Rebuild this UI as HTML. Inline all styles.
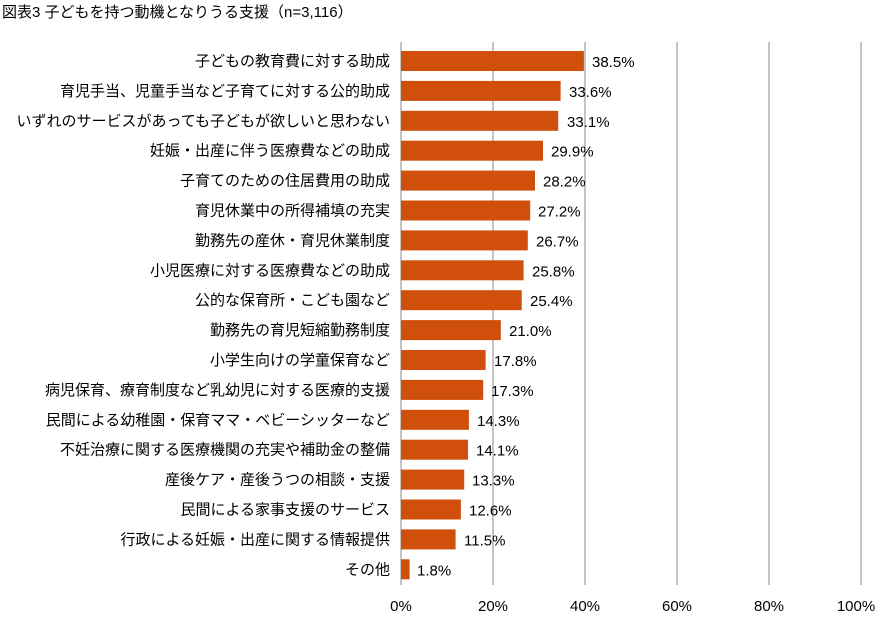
<!DOCTYPE html>
<html><head><meta charset="utf-8"><style>
body{margin:0;background:#fff;}
svg text{font-family:"Liberation Sans","Noto Sans CJK JP",sans-serif;}
</style></head><body>
<svg width="883" height="615" xmlns="http://www.w3.org/2000/svg">
<rect width="883" height="615" fill="#fff"/>
<text x="2" y="17" font-size="15" fill="#000">図表3 子どもを持つ動機となりうる支援（n=3,116）</text>
<g stroke="#888" stroke-width="1">
<line x1="401" y1="42" x2="401" y2="585"/>
<line x1="493" y1="42" x2="493" y2="585"/>
<line x1="585" y1="42" x2="585" y2="585"/>
<line x1="677" y1="42" x2="677" y2="585"/>
<line x1="769" y1="42" x2="769" y2="585"/>
<line x1="861" y1="42" x2="861" y2="585"/>
</g>
<g font-size="15" fill="#000" text-anchor="middle">
<text x="401" y="611">0%</text><text x="493" y="611">20%</text><text x="585" y="611">40%</text><text x="677" y="611">60%</text><text x="769" y="611">80%</text><text x="856" y="611">100%</text>
</g>
<g fill="#d04f0b">
<rect x="401" y="51" width="182.9" height="20"/>
<rect x="401" y="80.9" width="159.6" height="20"/>
<rect x="401" y="110.8" width="157.2" height="20"/>
<rect x="401" y="140.7" width="142" height="20"/>
<rect x="401" y="170.6" width="134" height="20"/>
<rect x="401" y="200.5" width="129.2" height="20"/>
<rect x="401" y="230.4" width="126.8" height="20"/>
<rect x="401" y="260.3" width="122.6" height="20"/>
<rect x="401" y="290.2" width="120.7" height="20"/>
<rect x="401" y="320.1" width="99.8" height="20"/>
<rect x="401" y="350" width="84.6" height="20"/>
<rect x="401" y="379.9" width="82.2" height="20"/>
<rect x="401" y="409.8" width="67.9" height="20"/>
<rect x="401" y="439.7" width="67" height="20"/>
<rect x="401" y="469.6" width="63.2" height="20"/>
<rect x="401" y="499.5" width="59.9" height="20"/>
<rect x="401" y="529.4" width="54.6" height="20"/>
<rect x="401" y="559.3" width="8.6" height="20"/>
</g>
<g font-size="15" fill="#000" text-anchor="end">
<text x="390" y="66">子どもの教育費に対する助成</text>
<text x="390" y="95.9">育児手当、児童手当など子育てに対する公的助成</text>
<text x="390" y="125.8">いずれのサービスがあっても子どもが欲しいと思わない</text>
<text x="390" y="155.7">妊娠・出産に伴う医療費などの助成</text>
<text x="390" y="185.6">子育てのための住居費用の助成</text>
<text x="390" y="215.5">育児休業中の所得補填の充実</text>
<text x="390" y="245.4">勤務先の産休・育児休業制度</text>
<text x="390" y="275.3">小児医療に対する医療費などの助成</text>
<text x="390" y="305.2">公的な保育所・こども園など</text>
<text x="390" y="335.1">勤務先の育児短縮勤務制度</text>
<text x="390" y="365">小学生向けの学童保育など</text>
<text x="390" y="394.9">病児保育、療育制度など乳幼児に対する医療的支援</text>
<text x="390" y="424.8">民間による幼稚園・保育ママ・ベビーシッターなど</text>
<text x="390" y="454.7">不妊治療に関する医療機関の充実や補助金の整備</text>
<text x="390" y="484.6">産後ケア・産後うつの相談・支援</text>
<text x="390" y="514.5">民間による家事支援のサービス</text>
<text x="390" y="544.4">行政による妊娠・出産に関する情報提供</text>
<text x="390" y="574.3">その他</text>
</g>
<g font-size="15" fill="#000">
<text x="592" y="67">38.5%</text>
<text x="569" y="96.9">33.6%</text>
<text x="567" y="126.8">33.1%</text>
<text x="551" y="156.7">29.9%</text>
<text x="543" y="186.6">28.2%</text>
<text x="538" y="216.5">27.2%</text>
<text x="536" y="246.4">26.7%</text>
<text x="532" y="276.3">25.8%</text>
<text x="530" y="306.2">25.4%</text>
<text x="509" y="336.1">21.0%</text>
<text x="494" y="366">17.8%</text>
<text x="491" y="395.9">17.3%</text>
<text x="477" y="425.8">14.3%</text>
<text x="476" y="455.7">14.1%</text>
<text x="472" y="485.6">13.3%</text>
<text x="469" y="515.5">12.6%</text>
<text x="464" y="545.4">11.5%</text>
<text x="417" y="575.3">1.8%</text>
</g>
</svg>
</body></html>
